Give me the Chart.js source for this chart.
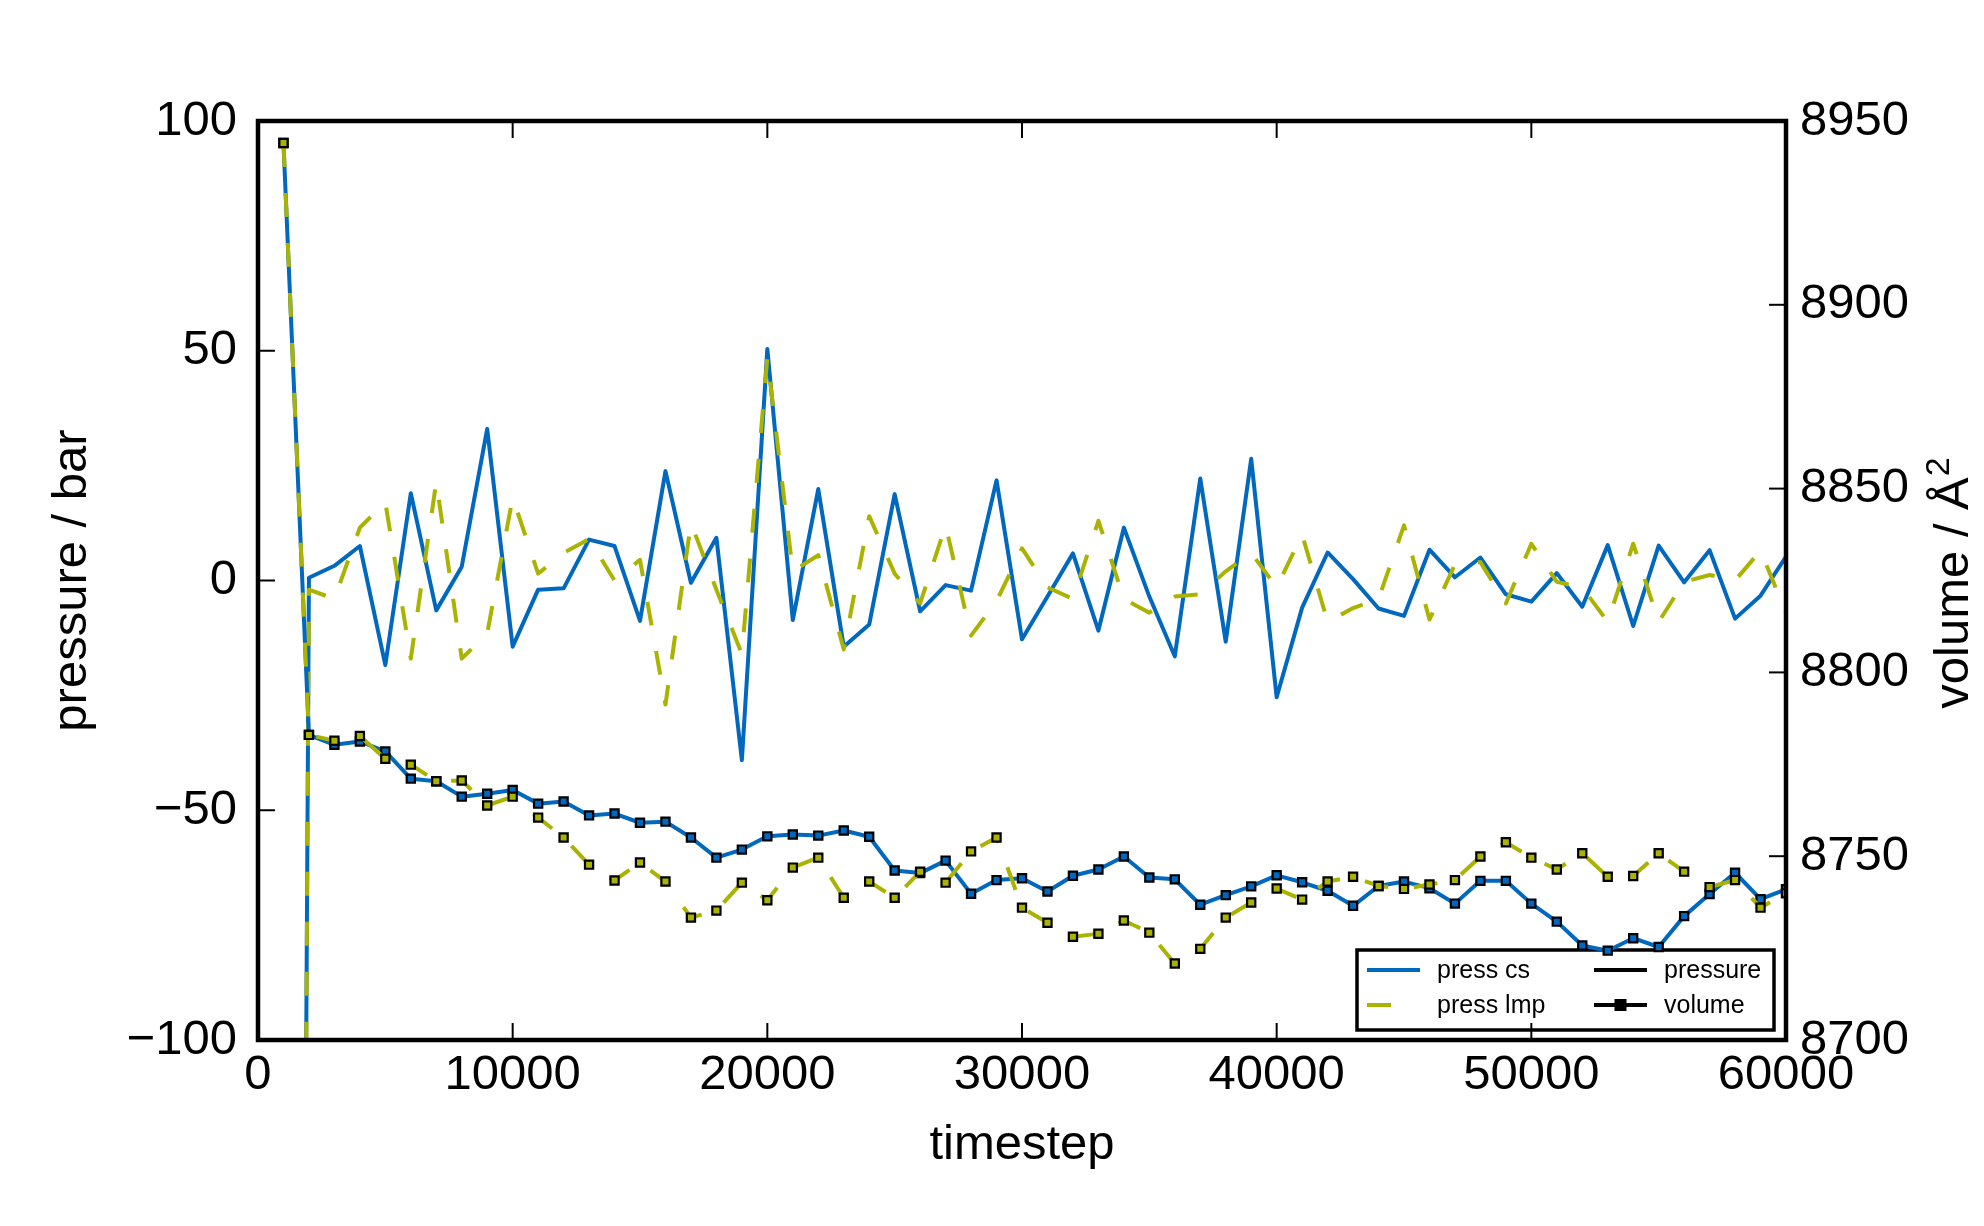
<!DOCTYPE html>
<html>
<head>
<meta charset="utf-8">
<title>pressure / volume vs timestep</title>
<script src="https://cdn.jsdelivr.net/npm/chart.js@4.4.1/dist/chart.umd.min.js"></script>
<style>
  html, body { margin: 0; padding: 0; background: #fff; }
  #wrap { width: 1984px; height: 1226px; }
</style>
</head>
<body>
<div id="wrap"><canvas id="chart" width="1984" height="1226"></canvas></div>
<script>
// values
var steps = [1000, 2000, 3000, 4000, 5000, 6000, 7000, 8000, 9000, 10000,
    11000, 12000, 13000, 14000, 15000, 16000, 17000, 18000, 19000, 20000,
    21000, 22000, 23000, 24000, 25000, 26000, 27000, 28000, 29000, 30000,
    31000, 32000, 33000, 34000, 35000, 36000, 37000, 38000, 39000, 40000,
    41000, 42000, 43000, 44000, 45000, 46000, 47000, 48000, 49000, 50000,
    51000, 52000, 53000, 54000, 55000, 56000, 57000, 58000, 59000, 60000];

var pressCs = [-950, 0.6, 3.2, 7.5, -18.4, 19.0, -6.5, 3.0, 33.0, -14.4,
    -2.0, -1.7, 8.9, 7.5, -8.8, 23.8, -0.5, 9.3, -39.1, 50.4,
    -8.6, 19.9, -14.4, -9.6, 18.8, -6.7, -1.0, -2.2, 21.8, -12.8,
    -3.5, 5.9, -10.9, 11.5, -3.5, -16.5, 22.2, -13.3, 26.5, -25.4,
    -5.9, 6.1, 0.3, -6.1, -7.7, 6.7, 0.7, 5.0, -3.0, -4.6,
    1.6, -5.7, 7.7, -9.9, 7.6, -0.4, 6.6, -8.3, -3.3, 5.2];

var pressLmp = [-950, -2, -4, 11.5, 17, -17, 21.5, -17, -11.5, 18,
    1.5, 6, 9, 0, 4.5, -27, 12.5, -2, -16, 48.5,
    2, 5.5, -15, 14, 1.5, -5, 12, -12, -4.5, 7,
    -1.5, -4, 13, -4, -7, -3.5, -3, 2, 6, -1.5,
    10, -9, -6, -4, 12, -8.5, 3.5, 4, -5, 8,
    -0.3, -1.5, -9, 8, -9, -0.3, 1.2, 0, 6.5, -7];

var volumeCs = [8944, 8783, 8780.3, 8781.2, 8778.5, 8771.1, 8770.4, 8766.2, 8767.0, 8768.0,
    8764.3, 8764.9, 8761.1, 8761.6, 8759.1, 8759.4, 8755.1, 8749.6, 8751.8, 8755.4,
    8755.9, 8755.6, 8757.0, 8755.3, 8746.1, 8745.4, 8748.8, 8739.8, 8743.5, 8744.0,
    8740.4, 8744.7, 8746.4, 8749.9, 8744.2, 8743.7, 8736.8, 8739.4, 8741.8, 8744.8,
    8742.9, 8740.6, 8736.5, 8741.9, 8743.1, 8741.3, 8737.1, 8743.3, 8743.3, 8737.1,
    8732.2, 8725.7, 8724.3, 8727.7, 8725.3, 8733.7, 8739.7, 8745.5, 8738.3, 8741.0];

var volumeLmp = [8944, 8783, 8781.4, 8782.7, 8776.5, 8774.9, 8770.4, 8770.6, 8763.8, 8766.2,
    8760.5, 8755.1, 8747.7, 8743.4, 8748.3, 8743.1, 8733.3, 8735.2, 8742.8, 8738.0,
    8746.9, 8749.6, 8738.7, 8743.1, 8738.7, 8745.8, 8742.8, 8751.3, 8755.1, 8736.0,
    8731.9, 8728.1, 8728.9, 8732.5, 8729.2, 8720.8, 8724.8, 8733.3, 8737.4, 8741.2,
    8738.2, 8743.1, 8744.4, 8741.9, 8741.1, 8742.3, 8743.5, 8749.9, 8753.8, 8749.6,
    8746.4, 8750.8, 8744.4, 8744.6, 8750.8, 8745.8, 8741.6, 8743.5, 8736.0, 8739.9];

var xTicks = [0, 10000, 20000, 30000, 40000, 50000, 60000];
var pressureTicks = [-100, -50, 0, 50, 100];
var volumeTicks = [8700, 8750, 8800, 8850, 8900, 8950];

var legendLabels = ['press cs', 'press lmp', 'pressure', 'volume'];

var BLUE = '#0068be';
var OLIVE = '#a9b300';
var FONT = '"Liberation Sans", Arial, Helvetica, sans-serif';
var DASH = [24, 26];
var LW = 4;

function points(ys) {
    return steps.map(function (s, i) { return { x: s, y: ys[i] }; });
}

function tickText(v) {
    return v < 0 ? '\u2212' + Math.abs(v) : String(v);
}

function fixedTicks(list) {
    return function (scale) {
        scale.ticks = list.map(function (v) { return { value: v }; });
    };
}

function line(ctx, x1, y1, x2, y2) {
    ctx.beginPath();
    ctx.moveTo(x1, y1);
    ctx.lineTo(x2, y2);
    ctx.stroke();
}

// frame, inward ticks, legend and axis titles, matplotlib style
var framePlugin = {
    id: 'frame',
    beforeDatasetsDraw: function (chart) {
        var ctx = chart.ctx;
        var lx = 1357, ly = 950, lw = 417, lh = 80;
        var entries = [
            { label: legendLabels[0], color: BLUE, dash: [], marker: false, col: 0, row: 0 },
            { label: legendLabels[1], color: OLIVE, dash: DASH, marker: false, col: 0, row: 1 },
            { label: legendLabels[2], color: '#000', dash: [], marker: false, col: 1, row: 0 },
            { label: legendLabels[3], color: '#000', dash: [], marker: true, col: 1, row: 1 }
        ];
        var colX = [1367, 1594];
        var rowY = [970, 1005];

        ctx.save();
        ctx.fillStyle = '#fff';
        ctx.fillRect(lx, ly, lw, lh);
        ctx.strokeStyle = '#000';
        ctx.lineWidth = 3.5;
        ctx.strokeRect(lx, ly, lw, lh);

        ctx.font = '25px ' + FONT;
        ctx.textBaseline = 'middle';
        ctx.textAlign = 'left';
        entries.forEach(function (e) {
            var x = colX[e.col], y = rowY[e.row];
            ctx.strokeStyle = e.color;
            ctx.lineWidth = LW;
            ctx.lineCap = 'butt';
            ctx.setLineDash(e.dash);
            line(ctx, x, y, x + (e.dash.length ? 25 : 53), y);
            ctx.setLineDash([]);
            if (e.marker) {
                ctx.fillStyle = '#000';
                ctx.fillRect(x + 26.5 - 6, y - 6, 12, 12);
            }
            ctx.fillStyle = '#000';
            ctx.fillText(e.label, x + 70, y + 1);
        });
        ctx.restore();
    },
    afterDatasetsDraw: function (chart) {
        var ctx = chart.ctx;
        var a = chart.chartArea;
        var sx = chart.scales.x, sp = chart.scales.yP, sv = chart.scales.yV;

        ctx.save();
        ctx.strokeStyle = '#000';
        ctx.lineWidth = 2;
        xTicks.forEach(function (v) {
            var px = sx.getPixelForValue(v);
            line(ctx, px, a.bottom, px, a.bottom - 17);
            line(ctx, px, a.top, px, a.top + 17);
        });
        pressureTicks.forEach(function (v) {
            var py = sp.getPixelForValue(v);
            line(ctx, a.left, py, a.left + 17, py);
        });
        volumeTicks.forEach(function (v) {
            var py = sv.getPixelForValue(v);
            line(ctx, a.right, py, a.right - 17, py);
        });
        ctx.lineWidth = 4.5;
        ctx.strokeRect(a.left, a.top, a.right - a.left, a.bottom - a.top);
        ctx.restore();
    },
    afterDraw: function (chart) {
        var ctx = chart.ctx;
        var a = chart.chartArea;
        var cx = (a.left + a.right) / 2;
        var cy = (a.top + a.bottom) / 2;

        ctx.save();
        ctx.fillStyle = '#000';
        ctx.font = '49px ' + FONT;
        ctx.textBaseline = 'alphabetic';
        ctx.textAlign = 'center';
        ctx.fillText('timestep', cx, 1159);

        ctx.save();
        ctx.translate(86, cy);
        ctx.rotate(-Math.PI / 2);
        ctx.fillText('pressure / bar', 0, 0);
        ctx.restore();

        // right label with superscript
        var main = 'volume / \u00c5';
        ctx.font = '49px ' + FONT;
        var wMain = ctx.measureText(main).width;
        ctx.font = '34px ' + FONT;
        var wSup = ctx.measureText('2').width;
        var total = wMain + wSup;
        ctx.save();
        ctx.translate(1968, cy + 3);
        ctx.rotate(-Math.PI / 2);
        ctx.textAlign = 'left';
        ctx.font = '49px ' + FONT;
        ctx.fillText(main, -total / 2, 0);
        ctx.font = '34px ' + FONT;
        ctx.fillText('2', -total / 2 + wMain + 1, -19);
        ctx.restore();

        ctx.restore();
    }
};

var tickFont = { family: FONT, size: 49 };

new Chart(document.getElementById('chart'), {
    type: 'line',
    data: {
        datasets: [{
            label: 'press cs',
            data: points(pressCs),
            yAxisID: 'yP',
            borderColor: BLUE,
            borderWidth: LW,
            pointRadius: 0,
            order: 4
        }, {
            label: 'press lmp',
            data: points(pressLmp),
            yAxisID: 'yP',
            borderColor: OLIVE,
            borderWidth: LW,
            borderDash: DASH,
            pointRadius: 0,
            order: 3
        }, {
            label: 'volume cs',
            data: points(volumeCs),
            yAxisID: 'yV',
            borderColor: BLUE,
            borderWidth: LW,
            pointStyle: 'rect',
            pointRadius: 5.8,
            pointBackgroundColor: BLUE,
            pointBorderColor: '#000',
            pointBorderWidth: 2.2,
            order: 2
        }, {
            label: 'volume lmp',
            data: points(volumeLmp),
            yAxisID: 'yV',
            borderColor: OLIVE,
            borderWidth: LW,
            borderDash: DASH,
            pointStyle: 'rect',
            pointRadius: 5.8,
            pointBackgroundColor: OLIVE,
            pointBorderColor: '#000',
            pointBorderWidth: 2.2,
            order: 1
        }]
    },
    options: {
        responsive: false,
        animation: false,
        devicePixelRatio: 1,
        clip: 0,
        layout: { padding: { top: 121, left: 0, right: 0, bottom: 0 } },
        elements: {
            line: { tension: 0, borderJoinStyle: 'round', borderCapStyle: 'butt', fill: false }
        },
        plugins: {
            legend: { display: false },
            tooltip: { enabled: false }
        },
        scales: {
            x: {
                type: 'linear',
                min: 0,
                max: 60000,
                afterBuildTicks: fixedTicks(xTicks),
                afterFit: function (s) { s.height = 186; },
                grid: { display: false, drawTicks: false },
                border: { display: false },
                ticks: {
                    autoSkip: false,
                    maxRotation: 0,
                    padding: 6,
                    color: '#000',
                    font: tickFont,
                    callback: tickText
                }
            },
            yP: {
                type: 'linear',
                position: 'left',
                min: -100,
                max: 100,
                afterBuildTicks: fixedTicks(pressureTicks),
                afterFit: function (s) { s.width = 258; },
                grid: { display: false, drawTicks: false },
                border: { display: false },
                ticks: { padding: 21, color: '#000', font: tickFont, callback: tickText }
            },
            yV: {
                type: 'linear',
                position: 'right',
                min: 8700,
                max: 8950,
                afterBuildTicks: fixedTicks(volumeTicks),
                afterFit: function (s) { s.width = 198; },
                grid: { display: false, drawTicks: false },
                border: { display: false },
                ticks: { padding: 14, color: '#000', font: tickFont, callback: tickText }
            }
        }
    },
    plugins: [framePlugin]
});
</script>
</body>
</html>
